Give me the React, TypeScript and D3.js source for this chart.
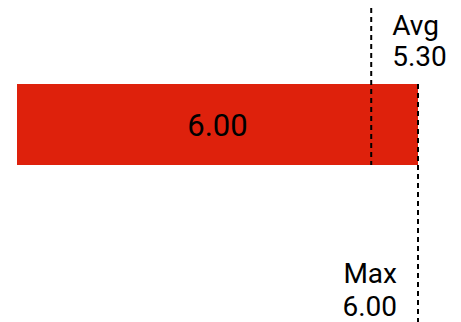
import React from "react";
import * as d3 from "d3";

const categories = ["Value"];
const values = [6.0];
const avgValue = 5.3;
const maxValue = 6.0;
const avgLabel = ["Avg", "5.30"];
const maxLabel = ["Max", "6.00"];

const W = 461;
const H = 322;

export default function App() {
  const x = d3.scaleLinear().domain([0, 6]).range([17, 418]);
  const y = d3.scaleBand().domain(categories).range([84, 165]).padding(0);
  const fmt = d3.format(".2f");
  const barTop = y(categories[0])!;
  const barBottom = barTop + y.bandwidth();
  const fontSize = 28;
  const barFontSize = 31;
  const font = "Roboto, 'Noto Sans', sans-serif";
  return (
    <svg
      width={W}
      height={H}
      style={{ position: "absolute", left: 0, top: 0, background: "#fff" }}
    >
      {values.map((v, i) => (
        <g key={i}>
          <rect
            x={x(0)}
            y={y(categories[i])}
            width={x(v) - x(0)}
            height={y.bandwidth()}
            fill="#de210c"
          />
          <text
            x={(x(0) + x(v)) / 2}
            y={barTop + y.bandwidth() / 2}
            dy="0.36em"
            textAnchor="middle"
            fontFamily={font}
            fontSize={barFontSize}
            fill="#000"
          >
            {fmt(v)}
          </text>
        </g>
      ))}
      <line
        x1={x(avgValue)}
        x2={x(avgValue)}
        y1={8}
        y2={barBottom}
        stroke="#000"
        strokeWidth={2}
        strokeDasharray="5,4"
      />
      <line
        x1={x(maxValue)}
        x2={x(maxValue)}
        y1={barTop}
        y2={H}
        stroke="#000"
        strokeWidth={2}
        strokeDasharray="5,4"
      />
      <text
        x={x(avgValue) + 21}
        y={35}
        fontFamily={font}
        fontSize={fontSize}
        fill="#000"
      >
        <tspan x={x(avgValue) + 21}>{avgLabel[0]}</tspan>
        <tspan x={x(avgValue) + 21} dy={31}>{avgLabel[1]}</tspan>
      </text>
      <text
        x={x(maxValue) - 21}
        y={283}
        fontFamily={font}
        fontSize={fontSize}
        fill="#000"
        textAnchor="end"
      >
        <tspan x={x(maxValue) - 21}>{maxLabel[0]}</tspan>
        <tspan x={x(maxValue) - 21} dy={33}>{maxLabel[1]}</tspan>
      </text>
    </svg>
  );
}
